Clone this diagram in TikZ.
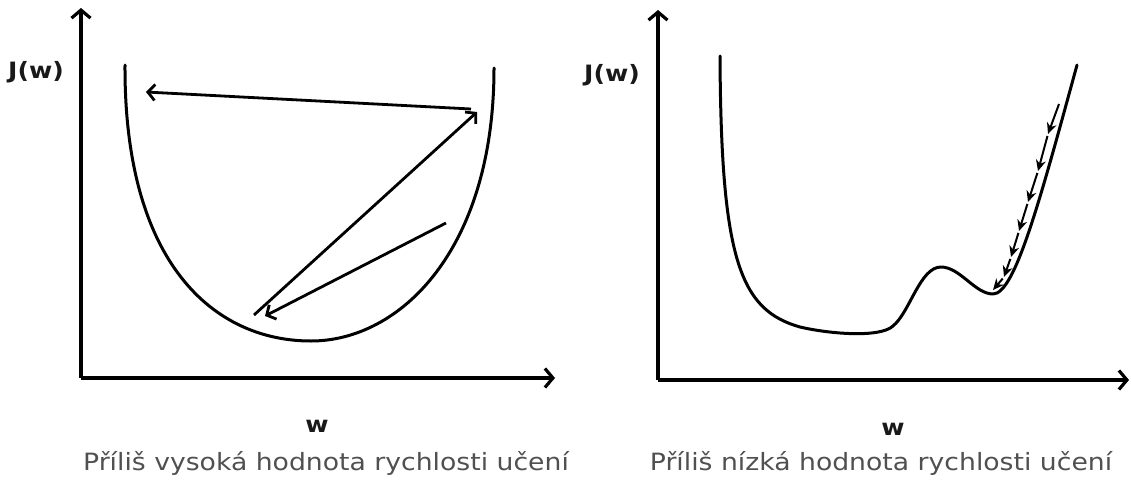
\documentclass[tikz,border=0pt]{standalone}
\usepackage{fontspec}
\setmainfont{DejaVu Sans}
\newfontfamily\capfont[FakeStretch=1.12]{DejaVu Sans}
\newfontfamily\labfont[FakeStretch=1.12]{DejaVu Sans}
\usetikzlibrary{arrows.meta}
\definecolor{captiongray}{HTML}{505050}
\tikzset{
  axis/.style={line width=3.4pt, -{Straight Barb[length=8pt,width=19pt,line width=3.2pt]}},
  curve/.style={line width=3pt, line cap=round, line join=round},
  jump/.style={line width=2.8pt, -{Straight Barb[length=7pt,width=16pt,line width=2.8pt]}},
  tiny/.style={line width=2pt, -{Stealth[length=11pt,width=10pt]}, shorten <=2pt},
  axlabel/.style={font=\labfont\bfseries\fontsize{22.5}{26}\selectfont, text=black!90, inner sep=0pt},
  caption/.style={font=\capfont\fontsize{23.8}{28}\selectfont, text=captiongray, inner sep=0pt},
}
\begin{document}
\begin{tikzpicture}[x=1pt,y=-1pt]
\useasboundingbox (0,0) rectangle (1131,479);
% ---------- left panel ----------
\coordinate (O1) at (81,378);
\coordinate (Y1) at (81,8);
\coordinate (X1) at (555,378);
\draw[axis] (O1) -- (Y1);
\draw[axis] (O1) -- (X1);
\node[axlabel] (J1) at (36,72) {J(w)};
\node[axlabel] (W1) at (317,426) {w};
\node[caption] (C1) at (326,463) {Příliš vysoká hodnota rychlosti učení};
\draw[curve] (125,65) .. controls (124,265) and (215,341) .. (311,341)
                      .. controls (400,341) and (494,250) .. (494,68);
\coordinate (A0) at (446,223);
\coordinate (A1) at (265,316);
\coordinate (B0) at (254,315);
\coordinate (B1) at (477,112);
\coordinate (C0) at (471,109);
\coordinate (C1p) at (146,92);
\draw[jump] (A0) -- (A1);
\draw[jump] (B0) -- (B1);
\draw[jump] (C0) -- (C1p);
% ---------- right panel ----------
\coordinate (O2) at (658,380);
\coordinate (Y2) at (658,10);
\coordinate (X2) at (1129,380);
\draw[axis] (O2) -- (Y2);
\draw[axis] (O2) -- (X2);
\node[axlabel] (J2) at (612,75) {J(w)};
\node[axlabel] (W2) at (893,429) {w};
\node[caption] (C2) at (881,463) {Příliš nízká hodnota rychlosti učení};
\draw[curve] (720,56) .. controls (721,260) and (740,310) .. (800,327)
                      .. controls (830,334) and (880,338) .. (893,326)
                      .. controls (910,312) and (920,267) .. (941,267)
                      .. controls (960,267) and (975,294) .. (993,294)
                      .. controls (1015,294) and (1040,200) .. (1077,65);
\coordinate (P0) at (1059,104);
\coordinate (P1) at (1048,134);
\coordinate (P2) at (1038,171);
\coordinate (P3) at (1028,202);
\coordinate (P4) at (1019,231);
\coordinate (P5) at (1011,257);
\coordinate (P6) at (1004,277);
\coordinate (P7) at (993,290);
\draw[tiny, shorten <=0pt] (P0) -- (P1);
\draw[tiny] (P1) -- (P2);
\draw[tiny] (P2) -- (P3);
\draw[tiny] (P3) -- (P4);
\draw[tiny] (P4) -- (P5);
\draw[tiny] (P5) -- (P6);
\draw[tiny] (P6) -- (P7);
\end{tikzpicture}
\end{document}
